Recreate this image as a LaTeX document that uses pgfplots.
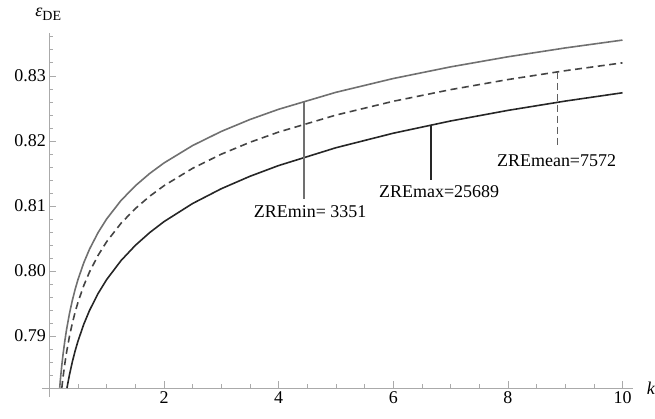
\documentclass[border=0pt]{standalone}
\usepackage{fontspec}
\setmainfont{Liberation Serif}
\newfontfamily\tnr{Liberation Serif}
\usepackage{pgfplots}
\pgfplotsset{compat=1.18}
\definecolor{cg}{RGB}{112,112,112}
\definecolor{cd}{RGB}{68,68,68}
\definecolor{cb}{RGB}{38,38,38}
\definecolor{axg}{RGB}{170,170,170}
\begin{document}
\begin{tikzpicture}[font=\tnr\fontsize{18bp}{21bp}\selectfont]
\begin{axis}[
  scale only axis,
  width=585.4bp, height=356bp,
  xmin=0, xmax=10.19, ymin=0.782, ymax=0.8366,
  axis x line=bottom, axis y line=left,
  axis line style={draw=axg, line width=0.8bp, -},
  x axis line style={shorten <=-7bp},
  y axis line style={shorten <=-9bp},
  tick align=inside,
  major tick length=7bp, minor tick length=4bp,
  every tick/.style={draw=axg, line width=0.7bp},
  xtick={2,4,6,8,10},
  minor xtick={0.5,1,1.5,2.5,3,3.5,4.5,5,5.5,6.5,7,7.5,8.5,9,9.5,10},
  ytick={0.79,0.80,0.81,0.82,0.83},
  minor ytick={0.784,0.786,0.788,0.792,0.794,0.796,0.798,0.802,0.804,0.806,0.808,0.812,0.814,0.816,0.818,0.822,0.824,0.826,0.828,0.832,0.834,0.836},
  /pgf/number format/assume math mode=true,
  ticklabel style={font=\tnr\fontsize{18bp}{21bp}\selectfont},
  yticklabel style={/pgf/number format/fixed, /pgf/number format/fixed zerofill, /pgf/number format/precision=2},
  clip=false,
]
% gray (top) curve
\addplot[cg, line width=1.6bp, line join=round] coordinates {
(0.18,0.78205) (0.19,0.78308) (0.20,0.78403) (0.22,0.78576) (0.24,0.78729) (0.27,0.78928) (0.30,0.79101) (0.35,0.79344) (0.40,0.79546) (0.45,0.79720) (0.50,0.79871) (0.60,0.80126) (0.70,0.80335) (0.85,0.80591) (1.0,0.80801) (1.25,0.81084) (1.5,0.81310) (1.75,0.81499) (2.0,0.81661) (2.5,0.81929) (3.0,0.82146) (3.5,0.82329) (4.0,0.82486) (5.0,0.82747) (6.0,0.82959) (7.0,0.83138) (8.0,0.83293) (9.0,0.83429) (10,0.83550)};
% dashed (middle) curve
\addplot[cd, line width=1.6bp, line join=round, dash pattern=on 7bp off 4.5bp] coordinates {
(0.217,0.78202) (0.22,0.78226) (0.24,0.78379) (0.27,0.78578) (0.30,0.78751) (0.35,0.78994) (0.40,0.79196) (0.45,0.79370) (0.50,0.79521) (0.60,0.79776) (0.70,0.79985) (0.85,0.80241) (1.0,0.80451) (1.25,0.80734) (1.5,0.80960) (1.75,0.81149) (2.0,0.81311) (2.5,0.81579) (3.0,0.81796) (3.5,0.81979) (4.0,0.82136) (5.0,0.82397) (6.0,0.82609) (7.0,0.82788) (8.0,0.82943) (9.0,0.83079) (10,0.83200)};
% black (bottom) curve
\addplot[cb, line width=1.6bp, line join=round] coordinates {
(0.307,0.78200) (0.32,0.78264) (0.35,0.78402) (0.40,0.78602) (0.45,0.78774) (0.50,0.78925) (0.60,0.79181) (0.70,0.79393) (0.85,0.79654) (1.0,0.79869) (1.25,0.80160) (1.5,0.80394) (1.75,0.80590) (2.0,0.80759) (2.5,0.81038) (3.0,0.81265) (3.5,0.81456) (4.0,0.81621) (5.0,0.81895) (6.0,0.82118) (7.0,0.82306) (8.0,0.82469) (9.0,0.82612) (10,0.82740)};
% annotation lines
\addplot[cg, line width=1.6bp] coordinates {(4.44,0.82608) (4.44,0.8110)};
\addplot[cb, line width=1.6bp] coordinates {(6.66,0.82245) (6.66,0.8140)};
\addplot[cd!85!white, line width=1.5bp, dash pattern=on 7bp off 4bp] coordinates {(8.87,0.83062) (8.87,0.8189)};
\node at (axis cs:4.55,0.80915) {ZREmin= 3351};
\node at (axis cs:6.80,0.81222) {ZREmax=25689};
\node at (axis cs:8.85,0.81697) {ZREmean=7572};
\node[anchor=base, inner sep=0pt] at (axis cs:-0.02,0.83905) {\textit{ε}{\fontsize{14bp}{14bp}\selectfont\raisebox{-4bp}{DE}}};
\node[anchor=west, inner sep=0pt] at (axis cs:10.42,0.782) {\textit{k}};
\end{axis}
\path[use as bounding box] (-49.5bp,-30bp) rectangle (605.5bp,389bp);
\end{tikzpicture}
\end{document}
